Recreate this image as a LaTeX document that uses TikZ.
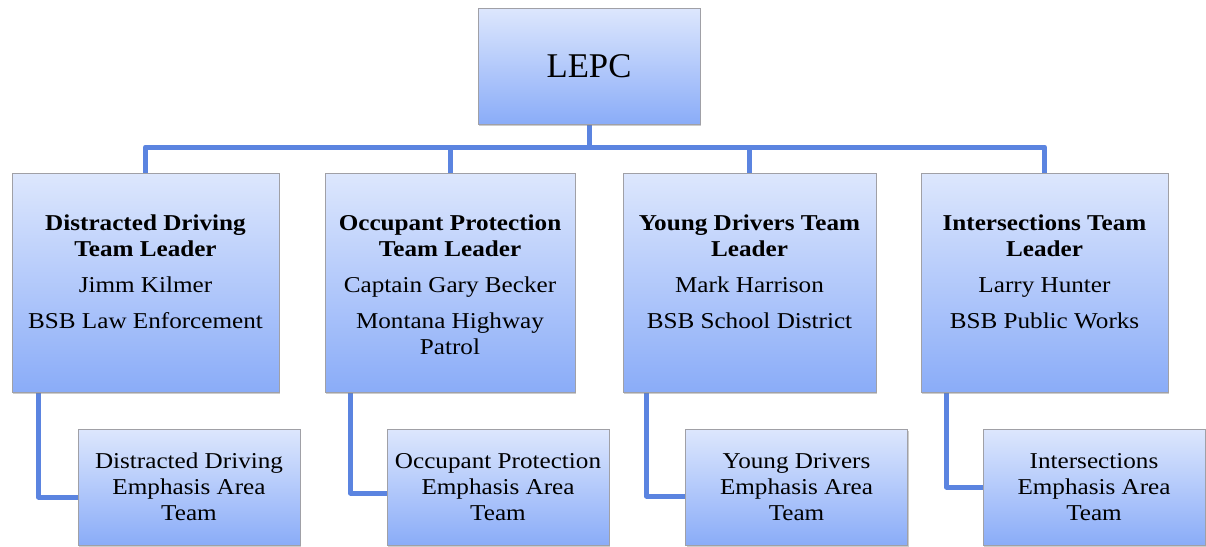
\documentclass[tikz,border=0pt]{standalone}
\usepackage{fontspec}
\setmainfont[FakeStretch=1.11]{Liberation Serif}
\newfontfamily\titlefont{Liberation Serif}
\usetikzlibrary{shadows,backgrounds}
\definecolor{boxtop}{RGB}{221,231,253}
\definecolor{boxbot}{RGB}{138,172,248}
\definecolor{connblue}{RGB}{91,132,224}
\definecolor{boxline}{RGB}{160,160,166}
\tikzset{
  orgbox/.style={rectangle, draw=boxline, line width=0.6pt, top color=boxtop, bottom color=boxbot,
    drop shadow={shadow xshift=0.8pt, shadow yshift=-1.5pt, opacity=0.4}, inner sep=0pt},
  leadbox/.style={orgbox, minimum height=164.25pt},
  teambox/.style={orgbox, minimum width=166.5pt, minimum height=87pt,
    font=\fontsize{17}{19.5}\selectfont, align=center},
  bodytext/.style={font=\fontsize{17}{19.5}\selectfont, align=center, inner sep=0pt, anchor=north},
  linkline/.style={draw=connblue, line width=3.75pt, line join=round}
}
\begin{document}
\begin{tikzpicture}[x=0.75pt,y=-0.75pt]
\useasboundingbox (0,0) rectangle (1206,546);
% top
\node[orgbox, minimum width=166.5pt, minimum height=87pt, font=\titlefont\fontsize{26}{31}\selectfont] (lepc) at (589,66) {LEPC};
% leaders
\node[leadbox, minimum width=200.25pt] (l1) at (145.5,282.5) {};
\node[leadbox, minimum width=187.5pt] (l2) at (450,282.5) {};
\node[leadbox, minimum width=189.75pt] (l3) at (749.5,282.5) {};
\node[leadbox, minimum width=185.25pt] (l4) at (1044.5,282.5) {};
\node[bodytext] (t1) at (145.5,215) {\textbf{Distracted Driving}\\\textbf{Team Leader}\\[7.5pt]Jimm Kilmer\\[7.5pt]BSB Law Enforcement};
\node[bodytext] (t2) at (450,215) {\textbf{Occupant Protection}\\\textbf{Team Leader}\\[7.5pt]Captain Gary Becker\\[7.5pt]Montana Highway\\Patrol};
\node[bodytext] (t3) at (749.5,215) {\textbf{Young Drivers Team}\\\textbf{Leader}\\[7.5pt]Mark Harrison\\[7.5pt]BSB School District};
\node[bodytext] (t4) at (1044.5,215) {\textbf{Intersections Team}\\\textbf{Leader}\\[7.5pt]Larry Hunter\\[7.5pt]BSB Public Works};
% teams
\node[teambox] (e1) at (189,487) {Distracted Driving\\Emphasis Area\\Team};
\node[teambox] (e2) at (498,487) {Occupant Protection\\Emphasis Area\\Team};
\node[teambox] (e3) at (796.5,487) {Young Drivers\\Emphasis Area\\Team};
\node[teambox] (e4) at (1094,487) {Intersections\\Emphasis Area\\Team};
\coordinate (bar) at (0,147);
\begin{scope}[on background layer]
\draw[linkline] (lepc.south) -- (lepc.south |- bar);
\draw[linkline] (l1.north) -- (l1.north |- bar) -- (l4.north |- bar) -- (l4.north);
\draw[linkline] (l2.north) -- (l2.north |- bar);
\draw[linkline] (l3.north) -- (l3.north |- bar);
\draw[linkline] ([xshift=20.25pt]l1.south west) |- ([yshift=-7.5pt]e1.west);
\draw[linkline] ([xshift=19.5pt]l2.south west) |- ([yshift=-4.5pt]e2.west);
\draw[linkline] ([xshift=18pt]l3.south west) |- ([yshift=-6.75pt]e3.west);
\draw[linkline] ([xshift=19.5pt]l4.south west) |- (e4.west);
\end{scope}
\end{tikzpicture}
\end{document}
